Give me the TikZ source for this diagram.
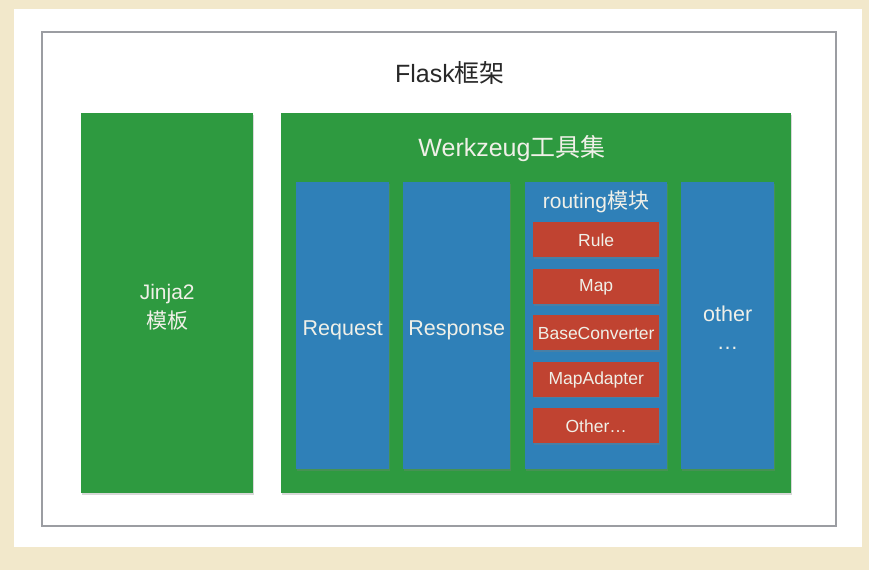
\documentclass[tikz,border=0pt]{standalone}
\usepackage{fontspec}
\setmainfont{Liberation Sans}
\newfontfamily\cjk{Noto Sans CJK SC}
\usetikzlibrary{shadows}
\definecolor{beige}{RGB}{242,232,203}
\definecolor{frame}{RGB}{155,157,162}
\definecolor{kgreen}{RGB}{46,154,64}
\definecolor{kblue}{RGB}{47,128,184}
\definecolor{kred}{RGB}{192,67,49}
\definecolor{ktext}{RGB}{240,240,232}
\definecolor{dtext}{RGB}{40,40,40}
\tikzset{
  x=1pt, y=-1pt,
  shade/.style={drop shadow={shadow xshift=1pt, shadow yshift=-1.5pt, opacity=0.3}},
  greenbox/.style={fill=kgreen, draw=none, anchor=north west, inner sep=0pt, shade},
  bluebox/.style={fill=kblue, draw=none, anchor=north west, inner sep=0pt, shade},
  redbox/.style={fill=kred, draw=none, anchor=north west, inner sep=0pt, shade, minimum width=126pt, minimum height=35pt},
  lbl/.style={inner sep=0pt, text=ktext, align=center},
  bigfont/.style={font=\fontsize{21.5}{28}\selectfont},
  redfont/.style={font=\fontsize{17.5}{20}\selectfont, yshift=-1pt},
}
\begin{document}
\begin{tikzpicture}
\fill[beige] (0,0) rectangle (869,570);
\useasboundingbox (0,0) rectangle (869,570);
\fill[white] (14,9) rectangle (862,547);
\node[draw=frame, line width=2pt, anchor=north west, inner sep=0pt, minimum width=794pt, minimum height=494pt] (flask) at (41,31) {};
\node[inner sep=0pt, text=dtext, font=\fontsize{25}{30}\selectfont] (flasklbl) at (450,73) {Flask{\cjk 框架}};
\node[greenbox, minimum width=172pt, minimum height=380pt,
  label={[lbl, font=\fontsize{21}{29}\selectfont, yshift=-4.5pt]center:Jinja2\\{\cjk 模板}}] (jinja) at (81,113) {};
\node[greenbox, minimum width=510pt, minimum height=380pt] (werk) at (281,113) {};
\node[lbl, font=\fontsize{25}{30}\selectfont] (werklbl) at (512,149) {Werkzeug{\cjk 工具集}};
\node[bluebox, minimum width=93pt, minimum height=287pt,
  label={[lbl, bigfont, yshift=-5pt]center:Request}] (req) at (296,182) {};
\node[bluebox, minimum width=107pt, minimum height=287pt,
  label={[lbl, bigfont, yshift=-5pt]center:Response}] (resp) at (403,182) {};
\node[bluebox, minimum width=142pt, minimum height=287pt] (routing) at (525,182) {};
\node[bluebox, minimum width=93pt, minimum height=287pt,
  label={[lbl, bigfont, yshift=-2pt]center:other\\…}] (other) at (681,182) {};
\node[lbl, font=\fontsize{21}{26}\selectfont] (routinglbl) at (596,202) {routing{\cjk 模块}};
\node[redbox, label={[lbl, redfont]center:Rule}] (rule) at (533,222) {};
\node[redbox, label={[lbl, redfont]center:Map}] (map) at (533,269) {};
\node[redbox, label={[lbl, redfont]center:BaseConverter}] (base) at (533,315) {};
\node[redbox, label={[lbl, redfont]center:MapAdapter}] (adapter) at (533,361.5) {};
\node[redbox, label={[lbl, redfont]center:Other…}] (rother) at (533,408) {};
\end{tikzpicture}
\end{document}
